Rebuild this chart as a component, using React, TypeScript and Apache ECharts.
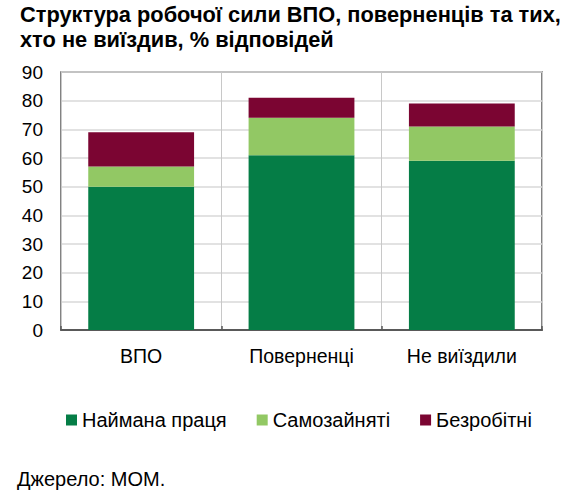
import React, { useEffect, useRef } from "react";
import * as echarts from "echarts";

const categories = ["ВПО", "Поверненці", "Не виїздили"];
const hired = [50, 61, 59];
const selfEmployed = [7, 13, 12];
const unemployed = [12, 7, 8];
const seriesNames = ["Наймана праця", "Самозайняті", "Безробітні"];
const yTicks = { min: 0, max: 90, interval: 10 };

export default function App() {
  const ref = useRef<HTMLDivElement>(null);
  useEffect(() => {
    if (!ref.current) return;
    const chart = echarts.init(ref.current, null, { renderer: "svg" });
    const font = "Liberation Sans, Arial, sans-serif";
    chart.setOption({
      animation: false,
      textStyle: { fontFamily: font },
      title: {
        text: "Структура робочої сили ВПО, поверненців та тих,\nхто не виїздив, % відповідей",
        left: 20,
        top: 1.5,
        padding: 0,
        textStyle: { fontSize: 21.8, fontWeight: "bold", color: "#000", lineHeight: 25, fontFamily: font },
      },
      legend: {
        left: 66,
        top: 410,
        padding: 0,
        itemWidth: 11,
        itemHeight: 11,
        itemGap: 30,
        icon: "rect",
        textStyle: { fontSize: 20, color: "#000", fontFamily: font },
        data: seriesNames,
      },
      grid: {
        left: 61,
        right: 36,
        top: 72,
        bottom: 170,
        show: true,
        borderColor: "#595959",
        borderWidth: 1.5,
        backgroundColor: "transparent",
      },
      xAxis: {
        type: "category",
        data: categories,
        axisLine: { lineStyle: { color: "#595959", width: 2 } },
        axisTick: { show: true, inside: true, length: 4, lineStyle: { color: "#595959", width: 1.5 } },
        axisLabel: { fontSize: 19.5, color: "#000", margin: 15.5, fontFamily: font },
        splitLine: { show: true, lineStyle: { color: "#c8c8c8", width: 1 } },
      },
      yAxis: {
        type: "value",
        min: yTicks.min,
        max: yTicks.max,
        interval: yTicks.interval,
        axisLine: { show: false },
        axisTick: { show: false },
        axisLabel: { fontSize: 19, color: "#000", margin: 18, fontFamily: font },
        splitLine: { lineStyle: { color: "#d9d9d9", width: 1.5 } },
      },
      series: [
        { name: seriesNames[0], type: "bar", stack: "a", data: hired, barWidth: "66%", itemStyle: { color: "#057D46" } },
        { name: seriesNames[1], type: "bar", stack: "a", data: selfEmployed, itemStyle: { color: "#92C864" } },
        { name: seriesNames[2], type: "bar", stack: "a", data: unemployed, itemStyle: { color: "#7B0532" } },
      ],
      graphic: [
        {
          type: "text",
          x: 17,
          y: 479,
          style: { text: "Джерело: МОМ.", fontSize: 20, fill: "#000", fontFamily: font, verticalAlign: "middle" },
        },
      ],
    });
    return () => chart.dispose();
  }, []);
  return <div ref={ref} style={{ width: 578, height: 500, position: "absolute", left: 0, top: 0 }} />;
}
